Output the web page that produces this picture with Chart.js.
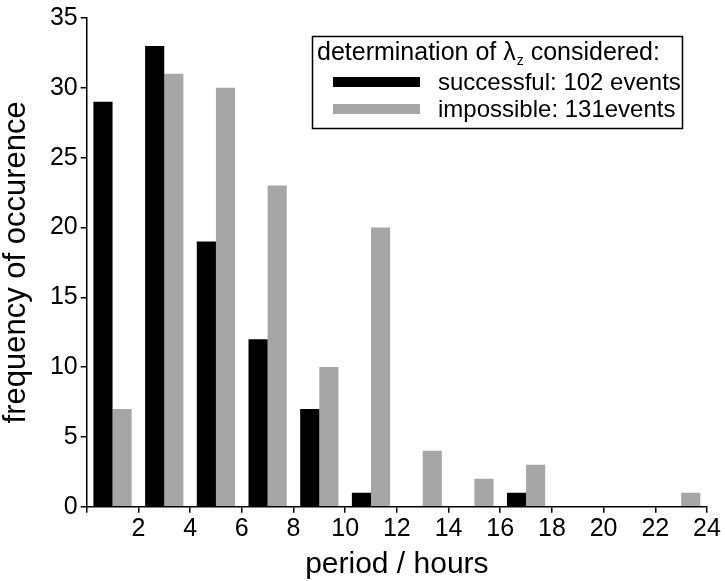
<!DOCTYPE html>
<html>
<head>
<meta charset="utf-8">
<script src="https://cdn.jsdelivr.net/npm/chart.js@4"></script>
<style>
  html, body { margin: 0; padding: 0; background: #fff; }
  #wrap { width: 725px; height: 581px; }
</style>
</head>
<body>
<div id="wrap"><canvas id="c" width="725" height="581"></canvas></div>
<script>
// ---- data ----
const binCenters = [1, 3, 5, 7, 9, 11, 13, 15, 17, 19, 21, 23];
const successful = [29, 33, 19, 12, 7, 1, 0, 0, 1, 0, 0, 0];
const impossible = [7, 31, 30, 23, 10, 20, 4, 2, 3, 0, 0, 1];
const xTicks = [0, 2, 4, 6, 8, 10, 12, 14, 16, 18, 20, 22, 24];
const yTicks = [0, 5, 10, 15, 20, 25, 30, 35];
const seriesNames = ['successful: 102 events', 'impossible: 131events'];
const legendTitle = ['determination of λ', 'z', ' considered:'];

const FONT = "Arial, 'Liberation Sans', Helvetica, sans-serif";
const BLACK = '#000000';
const GRAY = '#a6a6a6';

const legendPlugin = {
  id: 'customLegend',
  afterDraw(chart) {
    const ctx = chart.ctx;
    ctx.save();
    ctx.fillStyle = '#fff';
    ctx.fillRect(312, 36, 370, 93);
    ctx.strokeStyle = '#000';
    ctx.lineWidth = 1.5;
    ctx.strokeRect(312.5, 36.5, 370, 92);
    ctx.fillStyle = '#000';
    ctx.textBaseline = 'alphabetic';
    ctx.textAlign = 'left';
    ctx.font = '25px ' + FONT;
    let x = 317;
    const by = 60;
    ctx.fillText(legendTitle[0], x, by);
    x += ctx.measureText(legendTitle[0]).width;
    ctx.font = '14px ' + FONT;
    ctx.fillText(legendTitle[1], x + 1, by + 5);
    x += ctx.measureText(legendTitle[1]).width + 1;
    ctx.font = '25px ' + FONT;
    ctx.fillText(legendTitle[2], x, by);
    // swatches
    ctx.font = '24px ' + FONT;
    const colors = [BLACK, GRAY];
    const swY = [77, 104];
    const txY = [90, 117];
    for (let i = 0; i < 2; i++) {
      ctx.fillStyle = colors[i];
      ctx.fillRect(333, swY[i], 87, 10);
      ctx.fillStyle = '#000';
      ctx.fillText(seriesNames[i], 438, txY[i]);
    }
    ctx.restore();
  }
};

new Chart(document.getElementById('c'), {
  type: 'bar',
  data: {
    datasets: [
      { label: seriesNames[0], data: binCenters.map((x, i) => ({ x, y: successful[i] })), backgroundColor: BLACK, borderWidth: 0 },
      { label: seriesNames[1], data: binCenters.map((x, i) => ({ x, y: impossible[i] })), backgroundColor: GRAY, borderWidth: 0 }
    ]
  },
  options: {
    responsive: false,
    animation: false,
    devicePixelRatio: 1,
    categoryPercentage: 0.74,
    barPercentage: 1.0,
    layout: { padding: { top: 18, right: 18, left: 0, bottom: 0 } },
    plugins: { legend: { display: false }, tooltip: { enabled: false } },
    scales: {
      x: {
        type: 'linear',
        min: 0, max: 24,
        offset: false,
        grid: { display: true, offset: false, drawOnChartArea: false, drawTicks: true, tickLength: 6, color: '#000', lineWidth: 1.5 },
        border: { display: true, color: '#000', width: 1.5 },
        afterBuildTicks: (s) => { s.ticks = xTicks.map(v => ({ value: v })); },
        ticks: { color: '#000', font: { family: FONT, size: 25 }, padding: 1, maxRotation: 0, autoSkip: false,
          callback: (v) => v === 0 ? '' : String(v) },
        title: { display: true, text: 'period / hours', color: '#000', font: { family: FONT, size: 30, lineHeight: 1.07 }, padding: 0 },
        afterFit: (s) => { s.height = 74.3; }
      },
      y: {
        min: 0, max: 35,
        grid: { display: true, drawOnChartArea: false, drawTicks: true, tickLength: 6, color: '#000', lineWidth: 1.5 },
        border: { display: true, color: '#000', width: 1.5 },
        afterBuildTicks: (s) => { s.ticks = yTicks.map(v => ({ value: v })); },
        ticks: { color: '#000', font: { family: FONT, size: 25 }, padding: 3 },
        title: { display: true, text: 'frequency of occurence', color: '#000', font: { family: FONT, size: 31, lineHeight: 1.03 }, padding: 0 },
        afterFit: (s) => { s.width = 86.7; }
      }
    }
  },
  plugins: [legendPlugin]
});
</script>
</body>
</html>
